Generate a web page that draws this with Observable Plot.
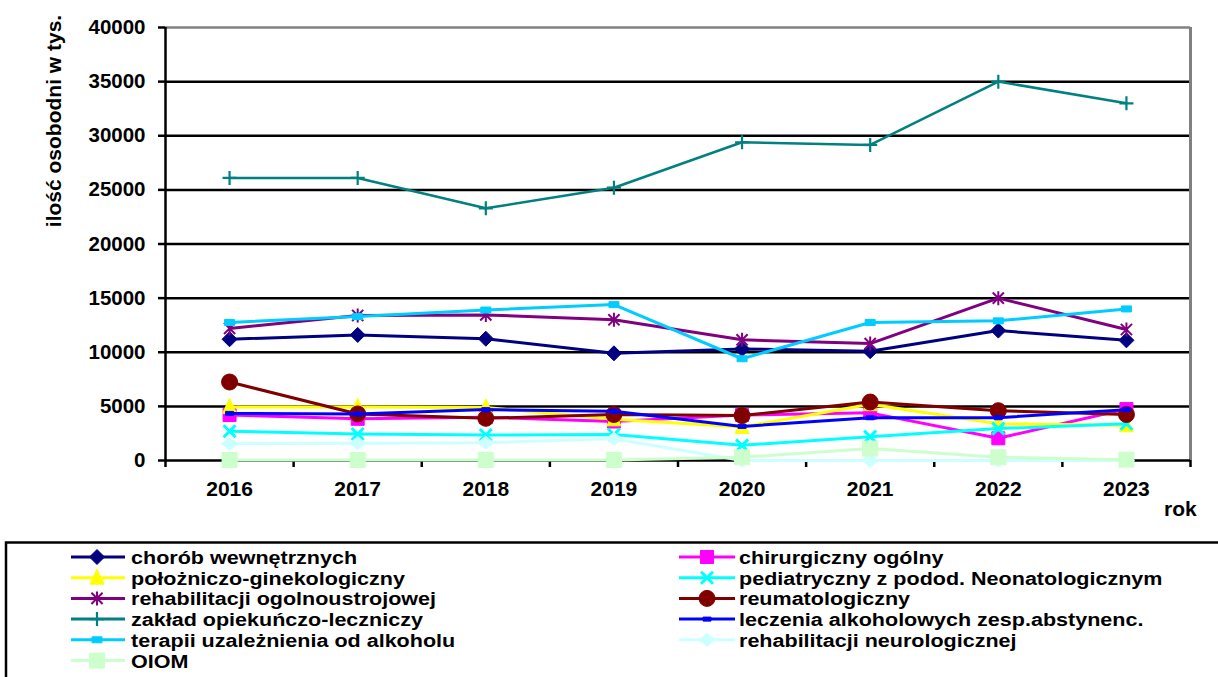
<!DOCTYPE html>
<html>
<head>
<meta charset="utf-8">
<script src="https://cdn.jsdelivr.net/npm/d3@7"></script>
<script src="https://cdn.jsdelivr.net/npm/@observablehq/plot@0.6"></script>
<style>
  html, body { margin: 0; padding: 0; background: #fff; }
  body { width: 1218px; height: 677px; overflow: hidden; position: relative;
         font-family: "Liberation Sans", Arial, sans-serif; font-weight: bold; }
  #chart { position: absolute; left: 0; top: 0; }
  #ytitle { position: absolute; left: 54px; top: 121px; transform: translate(-50%, -50%) rotate(-90deg);
            white-space: nowrap; font-size: 21px; color: #000; }
  #rok { position: absolute; left: 1164px; top: 497px; font-size: 21px; color: #000; }
  #legend { position: absolute; left: 0; top: 530px; }
</style>
</head>
<body>
<div id="chart"></div>
<div id="ytitle">ilość osobodni w tys.</div>
<div id="rok">rok</div>
<div id="legend"></div>
<script>
// ---------- data ----------
const years = [2016, 2017, 2018, 2019, 2020, 2021, 2022, 2023];
const yTicks = [0, 5000, 10000, 15000, 20000, 25000, 30000, 35000, 40000];

const chorobWewnetrznych   = [11200, 11600, 11250, 9900, 10300, 10100, 12000, 11100];
const chirurgicznyOgolny   = [4200, 3850, 4000, 3600, 4200, 4400, 2050, 4750];
const polozniczoGinekol    = [4950, 4950, 4900, 3800, 3100, 5200, 3400, 3250];
const pediatryczny         = [2700, 2450, 2350, 2400, 1400, 2200, 2950, 3400];
const rehabOgolnoustroj    = [12200, 13400, 13450, 13000, 11150, 10800, 15000, 12100];
const reumatologiczny      = [7250, 4300, 3900, 4250, 4150, 5400, 4600, 4250];
const zakladOpiekunczy     = [26100, 26100, 23300, 25200, 29400, 29150, 35000, 33000];
const leczeniaAlkohol      = [4350, 4300, 4700, 4550, 3150, 3950, 3950, 4700];
const terapiiUzaleznienia  = [12750, 13300, 13900, 14400, 9400, 12750, 12900, 14000];
const rehabNeurologicznej  = [1550, 1600, 1650, 2000, 0, 0, 0, 0];
const oiom                 = [50, 50, 50, 50, 300, 1100, 300, 80];

const seriesNames = [
  "chorób wewnętrznych", "chirurgiczny ogólny", "położniczo-ginekologiczny",
  "pediatryczny z podod. Neonatologicznym", "rehabilitacji ogolnoustrojowej",
  "reumatologiczny", "zakład opiekuńczo-leczniczy", "leczenia alkoholowych zesp.abstynenc.",
  "terapii uzależnienia od alkoholu", "rehabilitacji neurologicznej", "OIOM"
];
const seriesValues = [chorobWewnetrznych, chirurgicznyOgolny, polozniczoGinekol, pediatryczny,
  rehabOgolnoustroj, reumatologiczny, zakladOpiekunczy, leczeniaAlkohol, terapiiUzaleznienia,
  rehabNeurologicznej, oiom];
const seriesColors = ["#000080", "#FF00FF", "#FFFF00", "#00FFFF", "#800080", "#800000",
  "#008080", "#0000FF", "#00CCFF", "#CCFFFF", "#CCFFCC"];

// ---------- marker shapes ----------
const diamond = (hw, hh) => ({draw(c) { c.moveTo(0, -hh); c.lineTo(hw, 0); c.lineTo(0, hh); c.lineTo(-hw, 0); c.closePath(); }});
const rect = (w, h) => ({draw(c) { c.rect(-w / 2, -h / 2, w, h); }});
const triangle = (w, h) => ({draw(c) { c.moveTo(0, -h * 0.57); c.lineTo(w / 2, h * 0.43); c.lineTo(-w / 2, h * 0.43); c.closePath(); }});
const circle = (r) => ({draw(c) { c.moveTo(r, 0); c.arc(0, 0, r, 0, 2 * Math.PI); }});
const times = (h) => ({draw(c) { c.moveTo(-h, -h); c.lineTo(h, h); c.moveTo(h, -h); c.lineTo(-h, h); }});
const star = (h) => ({draw(c) { c.moveTo(0, -h); c.lineTo(0, h); c.moveTo(-h * 0.8, -h * 0.8); c.lineTo(h * 0.8, h * 0.8); c.moveTo(h * 0.8, -h * 0.8); c.lineTo(-h * 0.8, h * 0.8); }});
const plus = (h) => ({draw(c) { c.moveTo(0, -h); c.lineTo(0, h); c.moveTo(-h, 0); c.lineTo(h, 0); }});

const markers = [
  {sym: diamond(7.5, 7.5), filled: true},
  {sym: rect(13, 13), filled: true},
  {sym: triangle(14, 15), filled: true},
  {sym: times(6), filled: false, sw: 3},
  {sym: star(7), filled: false, sw: 2},
  {sym: circle(8), filled: true},
  {sym: plus(7), filled: false, sw: 2.2},
  {sym: rect(8, 4), filled: true},
  {sym: rect(10, 6), filled: true},
  {sym: diamond(8, 6.5), filled: true},
  {sym: rect(15, 15), filled: true}
];

// long table
const table = [];
seriesNames.forEach((name, i) => seriesValues[i].forEach((v, j) => table.push({series: name, year: years[j], value: v})));

// ---------- chart ----------
const boundaries = d3.range(2015.5, 2024, 1);
const marks = [
  Plot.ruleY(yTicks.filter(t => t > 0 && t < 40000), {stroke: "#000", strokeWidth: 2.5}),
  Plot.ruleY([40000], {stroke: "#808080", strokeWidth: 2.5}),
  Plot.ruleX([2023.5], {stroke: "#808080", strokeWidth: 3}),
  Plot.axisY({ticks: yTicks, tickSize: 7, tickPadding: 13, tickFormat: d => String(d), stroke: "#000", strokeWidth: 2.5, fontSize: 20.5, label: null}),
  Plot.axisX({ticks: boundaries, tickSize: 7, tickFormat: () => "", stroke: "#000", strokeWidth: 2.5, label: null}),
  Plot.axisX({ticks: years, tickSize: 0, tickPadding: 21, tickFormat: d => String(d), fontSize: 21, label: null}),
  Plot.ruleX([2015.5], {stroke: "#000", strokeWidth: 2.5}),
  Plot.ruleY([0], {stroke: "#000", strokeWidth: 2.5})
];
seriesNames.forEach((name, i) => {
  const rows = table.filter(d => d.series === name);
  const col = seriesColors[i];
  const m = markers[i];
  marks.push(Plot.line(rows, {x: "year", y: "value", stroke: col, strokeWidth: i === 6 ? 2.5 : 3}));
  marks.push(Plot.dot(rows, {x: "year", y: "value", symbol: m.sym, r: 5,
    fill: m.filled ? col : "none", stroke: col, strokeWidth: m.filled ? 1 : m.sw}));
});

const chart = Plot.plot({
  width: 1218,
  height: 540,
  marginLeft: 165,
  marginRight: 28,
  marginTop: 27,
  marginBottom: 80,
  x: {type: "linear", domain: [2015.5, 2023.5]},
  y: {type: "linear", domain: [0, 40000]},
  style: {fontFamily: "'Liberation Sans', Arial, sans-serif", fontSize: "20px", fontWeight: "bold", color: "#000", background: "transparent", overflow: "visible"},
  marks
});
document.getElementById("chart").appendChild(chart);

// ---------- legend ----------
const lg = d3.select("#legend").append("svg").attr("width", 1218).attr("height", 147)
  .style("font-family", "'Liberation Sans', Arial, sans-serif").style("font-weight", "bold").style("font-size", "17.8px");
lg.append("rect").attr("x", 6).attr("y", 12.5).attr("width", 1300).attr("height", 200)
  .attr("fill", "none").attr("stroke", "#000").attr("stroke-width", 2.5);
const colX = [{l1: 71, l2: 125, m: 97, t: 131}, {l1: 679, l2: 735, m: 707, t: 739}];
seriesNames.forEach((name, i) => {
  const col = colX[i % 2];
  const row = Math.floor(i / 2);
  const y = 27 + row * 20.7;
  const m = markers[i];
  const c = seriesColors[i];
  const g = lg.append("g");
  g.append("line").attr("x1", col.l1).attr("x2", col.l2).attr("y1", y).attr("y2", y)
    .attr("stroke", c).attr("stroke-width", 3);
  g.append("path").attr("d", d3.symbol(m.sym)()).attr("transform", `translate(${col.m},${y})`)
    .attr("fill", m.filled ? c : "none").attr("stroke", c).attr("stroke-width", m.filled ? 1 : m.sw);
  g.append("text").attr("transform", `translate(${col.t},${y + 7}) scale(1.21,1)`)
    .attr("fill", "#000").text(name);
});
</script>
</body>
</html>
